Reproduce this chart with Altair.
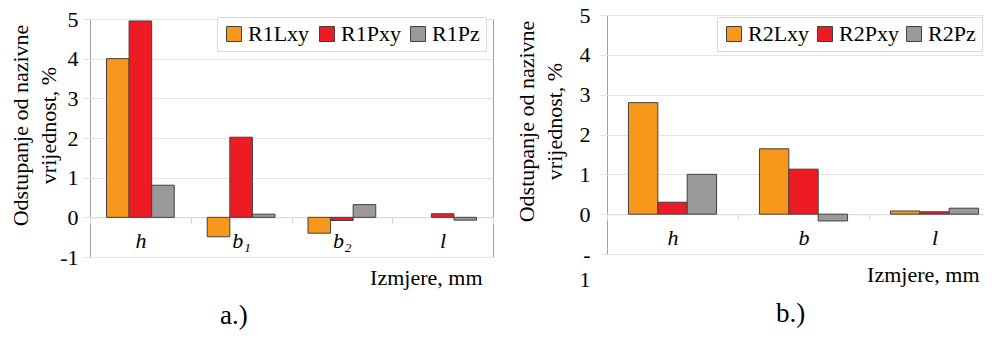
import altair as alt
import pandas as pd

# ---- data ----
cats_a = ["h", "b₁", "b₂", "l"]
series_a = ["R1Lxy", "R1Pxy", "R1Pz"]
r1lxy = [4.0, -0.49, -0.40, 0.0]
r1pxy = [4.95, 2.02, -0.08, 0.09]
r1pz = [0.81, 0.08, 0.32, -0.07]

cats_b = ["h", "b", "l"]
series_b = ["R2Lxy", "R2Pxy", "R2Pz"]
r2lxy = [2.8, 1.64, 0.08]
r2pxy = [0.30, 1.13, 0.06]
r2pz = [1.0, -0.17, 0.15]

y_ticks = [-1, 0, 1, 2, 3, 4, 5]
y_title = ["Odstupanje od nazivne", "vrijednost, %"]
x_title = "Izmjere, mm"
colors = ["#F7981D", "#ED1C24", "#9A9A9A"]

FONT = "Liberation Serif, Times New Roman, serif"


def long_df(cats, series, cols):
    rows = []
    for s, vals in zip(series, cols):
        for c, v in zip(cats, vals):
            rows.append({"cat": c, "series": s, "value": v})
    return pd.DataFrame(rows)


df_a = long_df(cats_a, series_a, [r1lxy, r1pxy, r1pz])
df_b = long_df(cats_b, series_b, [r2lxy, r2pxy, r2pz])


def panel(df, cats, series, width, height, label_expr, label_lh, label_pad,
          title_x, xtitle_x, legend_x, legend_y, col_pad, caption, cap_dx, cap_off):
    unit = height / 6.0
    return alt.Chart(df).mark_bar(stroke="#404040", strokeWidth=1).encode(
        x=alt.X(
            "cat:N", sort=cats,
            scale=alt.Scale(paddingInner=0, paddingOuter=0),
            axis=alt.Axis(
                title=x_title, offset=-unit, labelAngle=0,
                domainColor="#d9d9d9", tickColor="#d9d9d9", tickSize=6,
                tickBand="extent", grid=False,
                labelFont=FONT, labelFontSize=22, labelFontStyle="italic",
                labelColor="black", labelBaseline="alphabetic", labelPadding=24,
                titleFont=FONT, titleFontSize=22, titleFontWeight="normal",
                titleColor="black", titleAlign="right", titleBaseline="alphabetic",
                titleX=xtitle_x, titleY=67,
            ),
        ),
        xOffset=alt.XOffset(
            "series:N", sort=series,
            scale=alt.Scale(domain=series, paddingInner=0, paddingOuter=0.73),
        ),
        y=alt.Y(
            "value:Q", stack=None,
            scale=alt.Scale(domain=[-1, 5], nice=False),
            axis=alt.Axis(
                values=y_ticks, title=y_title, grid=True, gridColor="#e6e6e6",
                domain=False, tickColor="#e6e6e6", tickSize=7,
                labelFont=FONT, labelFontSize=22, labelColor="black",
                labelPadding=label_pad, labelExpr=label_expr,
                labelLineHeight=label_lh,
                titleFont=FONT, titleFontSize=22, titleFontWeight="normal",
                titleColor="black", titleLineHeight=28,
                titleBaseline="alphabetic", titleAngle=270,
                titleX=title_x, titleY=106,
            ),
        ),
        color=alt.Color(
            "series:N", sort=series,
            scale=alt.Scale(domain=series, range=colors),
            legend=alt.Legend(
                title=None, orient="none", legendX=legend_x, legendY=legend_y,
                direction="horizontal", columns=3,
                symbolType="square", symbolSize=225,
                symbolStrokeColor="#404040", symbolStrokeWidth=1,
                symbolOpacity=1,
                labelFont=FONT, labelFontSize=22, labelColor="black",
                labelOffset=3, columnPadding=col_pad, padding=6,
                strokeColor="#d9d9d9", fillColor="white",
            ),
        ),
        strokeOpacity=alt.condition("datum.value == 0", alt.value(0), alt.value(1)),
    ).properties(
        width=width, height=height,
        title=alt.Title(
            caption, orient="bottom", anchor="start", frame="group",
            dx=cap_dx, offset=cap_off, baseline="alphabetic",
            font=FONT, fontSize=27, fontWeight="normal", color="black",
        ),
    )


chart_a = panel(
    df_a, cats_a, series_a, 403, 238,
    label_expr="'' + datum.value",
    label_lh=25, label_pad=5, title_x=-63, xtitle_x=392,
    legend_x=127, legend_y=2, col_pad=6, caption="a.)", cap_dx=130, cap_off=36,
)
chart_b = panel(
    df_b, cats_b, series_b, 393, 239,
    label_expr="datum.value == -1 ? ['-', '1'] : ('' + datum.value)",
    label_lh=25, label_pad=10, title_x=-74, xtitle_x=372,
    legend_x=110, legend_y=2, col_pad=4, caption="b.)", cap_dx=169, cap_off=32,
)

# invisible 1px spacer that lowers panel a by a few pixels, as in the reference
spacer = alt.Chart(pd.DataFrame({"v": [0]})).mark_point(opacity=0).properties(
    width=1, height=1, view=alt.ViewBackground(stroke="transparent")
)
left = alt.vconcat(spacer, chart_a, spacing=3, bounds="flush")

chart = alt.concat(left, chart_b, columns=2, spacing=20, align="none").resolve_scale(
    x="independent", y="independent", color="independent",
    xOffset="independent",
).configure_view(stroke="#a0a0a0", strokeWidth=1).properties(
    autosize=alt.AutoSizeParams(type="none"),
    padding={"left": 82, "top": 7, "right": 894, "bottom": 317},
    background="white",
)

chart.save("out.html", embed_options={"renderer": "svg", "actions": False})
